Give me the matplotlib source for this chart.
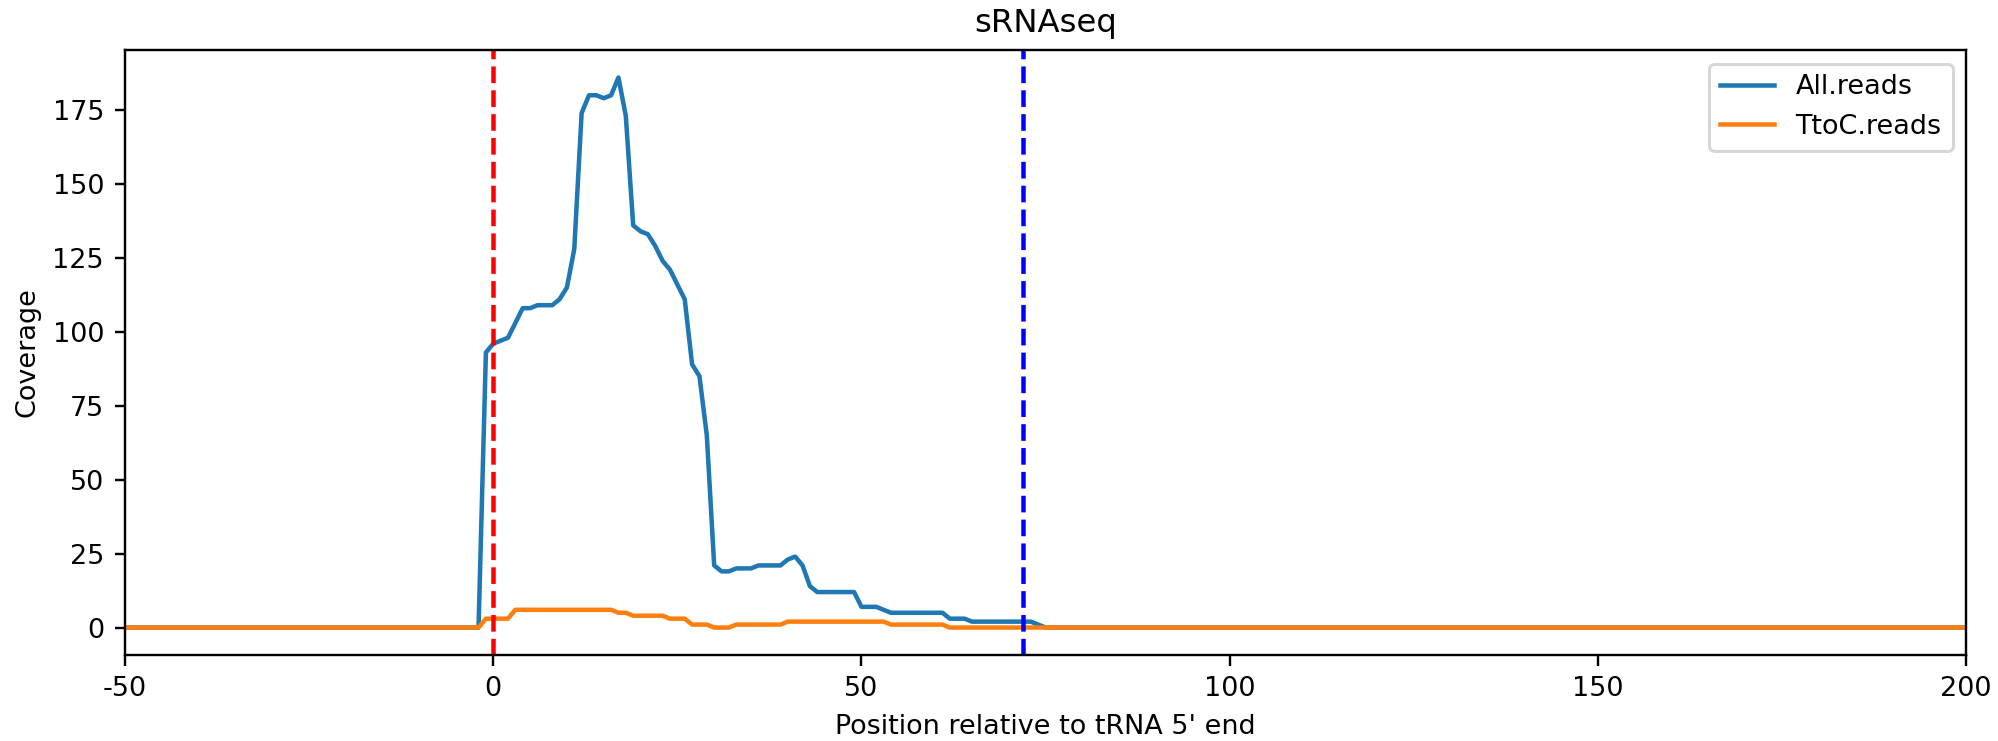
#!/usr/bin/env python3
"""Coverage profile around the tRNA 5' end (sRNAseq)."""
import numpy as np
import matplotlib
matplotlib.use("Agg")
import matplotlib.pyplot as plt

# positions -50 .. 200
positions = np.arange(-50, 201)

# coverage values, positions -2 .. 75
all_core = [0, 93, 96, 97, 98, 103, 108, 108, 109, 109, 109, 111, 115, 128,
            174, 180, 180, 179, 180, 186, 173, 136, 134, 133, 129, 124, 121,
            116, 111, 89, 85, 65, 21, 19, 19, 20, 20, 20, 21, 21, 21, 21, 23,
            24, 21, 14, 12, 12, 12, 12, 12, 12, 7, 7, 7, 6, 5, 5, 5, 5, 5, 5,
            5, 5, 3, 3, 3, 2, 2, 2, 2, 2, 2, 2, 2, 2, 1, 0]
ttoc_core = [0, 3, 3, 3, 3, 6, 6, 6, 6, 6, 6, 6, 6, 6, 6, 6, 6, 6, 6, 5, 5,
             4, 4, 4, 4, 4, 3, 3, 3, 1, 1, 1, 0, 0, 0, 1, 1, 1, 1, 1, 1, 1,
             2, 2, 2, 2, 2, 2, 2, 2, 2, 2, 2, 2, 2, 2, 1, 1, 1, 1, 1, 1, 1,
             1, 0, 0, 0, 0, 0, 0, 0, 0, 0, 0, 0, 0, 0, 0]

all_reads = [0] * 48 + all_core + [0] * 125
ttoc_reads = [0] * 48 + ttoc_core + [0] * 125

trna_start = 0
trna_end = 72

plt.rcParams['axes.unicode_minus'] = False
plt.rcParams['font.size'] = 9

DPI = 216
fig, ax = plt.subplots(figsize=(1998 / DPI, 741 / DPI), dpi=DPI)
fig.subplots_adjust(left=0.0626, right=0.984, top=0.9325, bottom=0.116)

ax.plot(positions, all_reads, label='All.reads')
ax.plot(positions, ttoc_reads, label='TtoC.reads')
ax.axvline(trna_start, color='red', linestyle='--')
ax.axvline(trna_end, color='blue', linestyle='--')

ax.set_xlim(-50, 200)
ax.set_xlabel("Position relative to tRNA 5' end")
ax.set_ylabel('Coverage')
ax.set_title('sRNAseq')
ax.legend(loc='upper right')

fig.savefig('out.png', dpi=DPI)
